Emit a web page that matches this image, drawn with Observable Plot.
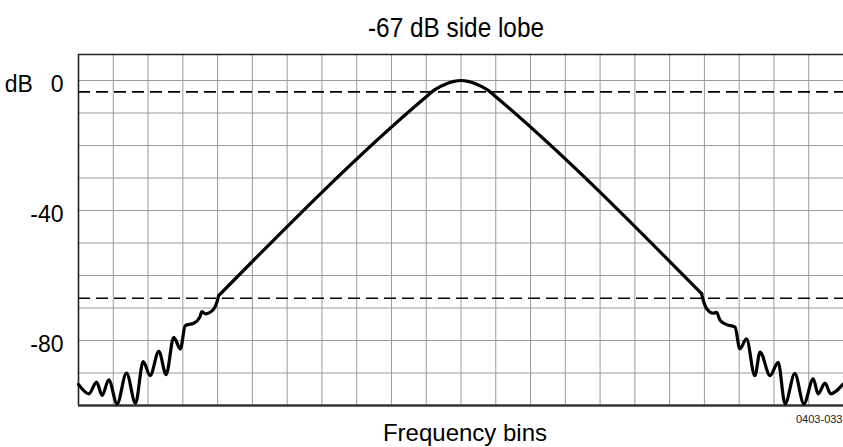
<!DOCTYPE html>
<html>
<head>
<meta charset="utf-8">
<script src="https://cdn.jsdelivr.net/npm/d3@7"></script>
<script src="https://cdn.jsdelivr.net/npm/@observablehq/plot@0.6"></script>
<style>
  html, body { margin: 0; padding: 0; background: #fff; }
</style>
</head>
<body>
<div id="chart"></div>
<script>
// Frequency-bin positions and response (dB)
const leftBins = [0.00, 0.30, 0.52, 0.68, 0.87, 1.11, 1.38, 1.64, 1.86, 2.06, 2.31, 2.52, 2.74, 2.93,
  3.07, 3.31, 3.49, 3.55, 3.65, 3.89, 3.98, 4.03];
const leftDb = [-93.5, -96.4, -92.8, -96.9, -92.1, -99.5, -90.0, -99.3, -86.5, -90.8, -83.3, -90.5, -79.0, -82.6,
  -75.4, -74.7, -72.8, -71.1, -71.8, -70.3, -68.2, -66.2];
const mainBins = [4.03, 10.0, 10.2, 10.4, 10.6, 10.8, 11.0, 11.2, 11.4, 11.6, 11.8, 12.0, 17.92];
const mainDb = [-66.2, -5.0, -3.2, -1.9, -0.9, -0.25, 0, -0.25, -0.9, -1.9, -3.2, -5.0, -65.6];
const rightBins = [17.92, 17.97, 18.07, 18.26, 18.35, 18.45, 18.64, 18.88, 19.02, 19.21, 19.45, 19.60,
  19.89, 20.12, 20.32, 20.60, 20.86, 21.13, 21.27, 21.47, 21.63, 21.98];
const rightDb = [-65.6, -67.7, -70.3, -71.6, -71.3, -73.8, -75.1, -75.9, -82.6, -79.5, -90.8, -83.6,
  -90.8, -86.7, -99.5, -90.2, -99.5, -91.8, -96.4, -93.1, -96.4, -93.5];
const gridX = d3.range(0, 23, 1);
const gridY = d3.range(-100, 1, 10);
const yTicks = [0, -40, -80];
const refLevels = [-3.5, -67];
const titleText = "-67 dB side lobe";
const xLabel = "Frequency bins";
const figId = "0403-033";

const toRows = (xs, ys) => xs.map((b, i) => ({bin: b, db: ys[i]}));
const leftRows = toRows(leftBins, leftDb);
const mainRows = toRows(mainBins, mainDb);
const rightRows = toRows(rightBins, rightDb);

const lineStyle = {x: "bin", y: "db", stroke: "#000", strokeWidth: 3.2, strokeLinejoin: "round", strokeLinecap: "round", curve: "monotone-x"};

const chart = Plot.plot({
  width: 843,
  height: 447,
  marginTop: 54,
  marginLeft: 78,
  marginRight: 0,
  marginBottom: 42,
  style: {fontFamily: "'Liberation Sans', Arial, sans-serif", fontSize: "23px", color: "#000", background: "#fff"},
  x: {domain: [0, 22], axis: null},
  y: {domain: [-100, 8], axis: null},
  marks: [
    Plot.ruleX(gridX, {stroke: "#9a9a9a", strokeWidth: 1}),
    Plot.ruleY(gridY, {stroke: "#9a9a9a", strokeWidth: 1}),
    Plot.ruleY(refLevels, {stroke: "#000", strokeWidth: 1.6, strokeDasharray: "12,6"}),
    Plot.ruleX([0], {stroke: "#222", strokeWidth: 1.6}),
    Plot.ruleY([8], {stroke: "#222", strokeWidth: 1.6}),
    Plot.ruleY([-100], {stroke: "#333", strokeWidth: 2.5}),
    Plot.axisY({ticks: yTicks, tickSize: 0, tickPadding: 15, dy: 4, label: null,
      tickFormat: d => d === 0 ? "dB\u2002\u00a00" : String(d), fontSize: 23}),
    Plot.line(leftRows, lineStyle),
    Plot.line(mainRows, lineStyle),
    Plot.line(rightRows, lineStyle),
    Plot.text([titleText], {frameAnchor: "top", lineAnchor: "bottom", dx: -5, dy: -18,
      fontSize: 28, fill: "#000", className: "ttl"}),
    Plot.text([xLabel], {frameAnchor: "bottom", lineAnchor: "bottom", dx: 4, dy: 35, fontSize: 24, fill: "#000"}),
    Plot.text([figId], {frameAnchor: "bottom-right", textAnchor: "end", lineAnchor: "bottom", dx: -1, dy: 17, fontSize: 11, fill: "#222"})
  ]
});
// condense the title glyphs to match the narrow typeface of the original
d3.select(chart).selectAll("g.ttl text").attr("textLength", 176).attr("lengthAdjust", "spacingAndGlyphs");
document.getElementById("chart").appendChild(chart);
</script>
</body>
</html>
